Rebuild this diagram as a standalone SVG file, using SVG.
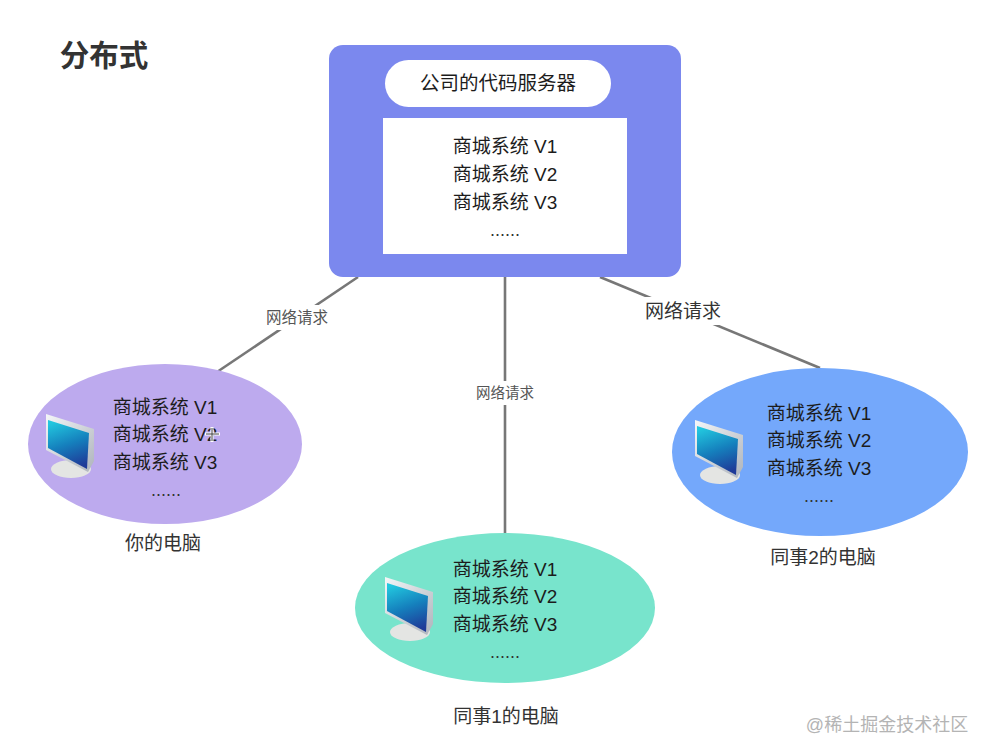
<svg xmlns="http://www.w3.org/2000/svg" width="988" height="756" viewBox="0 0 988 756">
<style>
text{font-family:"Liberation Sans","Noto Sans CJK SC",sans-serif;fill:#1c1c1c;text-anchor:middle}
.v{font-size:19px}
.d{font-size:18px;fill:#333}
.cap{font-size:19px;fill:#333}
.small{font-size:14.5px;fill:#555}
.line{stroke:#777;stroke-width:2.6;fill:none}
</style>
<defs>
<linearGradient id="scr" x1="0.3" y1="0" x2="0.6" y2="1"><stop offset="0" stop-color="#22c6de"/><stop offset="0.5" stop-color="#1580bd"/><stop offset="1" stop-color="#1f3a98"/></linearGradient>
<linearGradient id="frm" x1="0" y1="0" x2="1" y2="1"><stop offset="0" stop-color="#f4f6f8"/><stop offset="1" stop-color="#aeb4bc"/></linearGradient>
<g id="pc">
<ellipse cx="25" cy="55" rx="20" ry="9" fill="#e4e5e3"/>
<polygon points="0,0 48,15 48,47 42,58 0,36" fill="url(#frm)"/>
<polygon points="2,6 43,19 41,55 2,34" fill="url(#scr)"/>
</g>
</defs>
<rect width="988" height="756" fill="#fff"/>
<text x="104" y="66" style="font-size:29.5px;font-weight:bold;fill:#333">分布式</text>
<g id="connectors">
<line class="line" x1="358" y1="277" x2="217" y2="372"/>
<line class="line" x1="505" y1="277" x2="505" y2="534"/>
<line class="line" x1="600" y1="277" x2="820" y2="368"/>
<rect x="262" y="305" width="70" height="25" fill="#fff"/>
<text class="small" x="297" y="323" style="font-size:15.5px">网络请求</text>
<rect x="472" y="381" width="66" height="24" fill="#fff"/>
<text class="small" x="505" y="398">网络请求</text>
<rect x="640" y="297" width="86" height="28" fill="#fff"/>
<text class="cap" x="683" y="318">网络请求</text>
</g>
<g id="server">
<rect x="329" y="45" width="352" height="232" rx="14" fill="#7b88ee"/>
<rect x="385" y="60" width="226" height="47" rx="23.5" fill="#fff"/>
<text x="498" y="90" style="font-size:19.5px">公司的代码服务器</text>
<rect x="383" y="118" width="244" height="136" fill="#fff"/>
<text class="v" x="505" y="153">商城系统 V1</text>
<text class="v" x="505" y="181">商城系统 V2</text>
<text class="v" x="505" y="209">商城系统 V3</text>
<text class="d" x="505" y="236">......</text>
</g>
<g id="your-pc">
<ellipse cx="165" cy="444" rx="137" ry="80" fill="#bdaaee"/>
<use href="#pc" x="46" y="414"/>
<text class="v" x="165" y="414">商城系统 V1</text>
<text class="v" x="165" y="441">商城系统 V2</text>
<text class="v" x="165" y="469">商城系统 V3</text>
<text class="d" x="166" y="496">......</text>
<path d="M212 427v15M205 434h15" stroke="#fff" stroke-width="3"/>
<path d="M212 428v13M206 434h13" stroke="#444" stroke-width="1"/>
<text class="cap" x="163" y="550">你的电脑</text>
</g>
<g id="colleague1-pc">
<ellipse cx="505" cy="608" rx="150" ry="75" fill="#78e4cc"/>
<use href="#pc" x="385" y="577"/>
<text class="v" x="505" y="576">商城系统 V1</text>
<text class="v" x="505" y="603">商城系统 V2</text>
<text class="v" x="505" y="631">商城系统 V3</text>
<text class="d" x="505" y="658">......</text>
<text class="cap" x="506" y="723">同事1的电脑</text>
</g>
<g id="colleague2-pc">
<ellipse cx="820" cy="452" rx="148" ry="84" fill="#74a8fb"/>
<use href="#pc" x="695" y="420"/>
<text class="v" x="819" y="420">商城系统 V1</text>
<text class="v" x="819" y="447">商城系统 V2</text>
<text class="v" x="819" y="475">商城系统 V3</text>
<text class="d" x="819" y="502">......</text>
<text class="cap" x="823" y="564">同事2的电脑</text>
</g>
<text x="887" y="731" style="font-size:18px;fill:#b4b4b4">@稀土掘金技术社区</text>
</svg>
